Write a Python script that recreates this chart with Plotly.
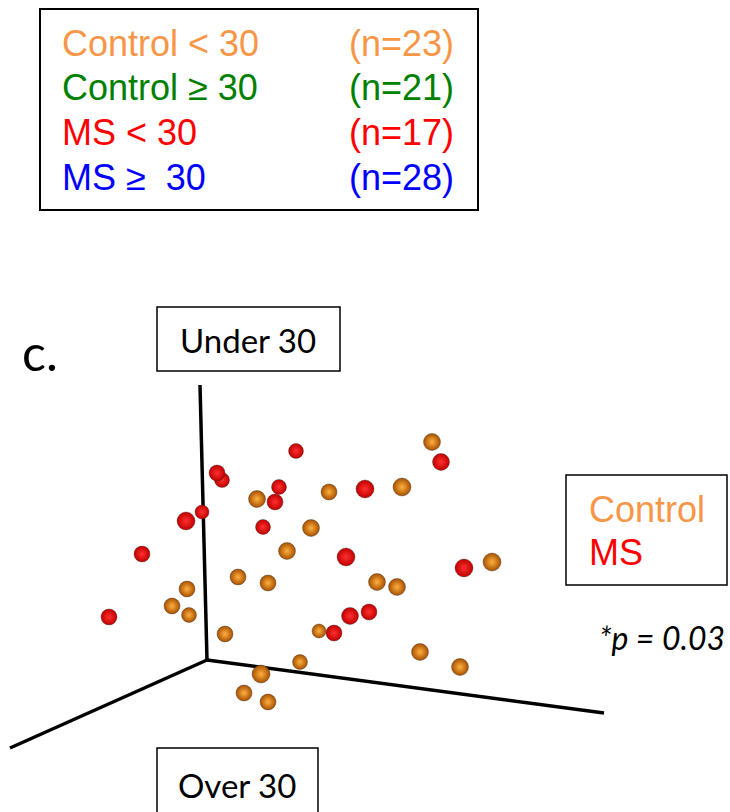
import plotly.graph_objects as go

# ---- Projected ordination coordinates (screen-plane units) and depth (sphere diameter) ----
control_x = [432, 257, 329, 402, 311, 287, 238, 268, 377, 397, 187, 172, 189, 225, 319, 300, 261, 244, 268, 420, 460, 492]
control_y = [442, 499, 492, 487, 528, 551, 577, 583, 582, 587, 589, 606, 615, 634, 631, 662, 674, 693, 702, 652, 667, 562]
control_d = [16, 16, 15, 17, 16, 16, 15, 15, 16, 16, 15, 15, 14, 15, 13, 14, 17, 15, 15, 16, 16, 17]

ms_x = [296, 222, 217, 279, 275, 202, 186, 263, 142, 441, 365, 346, 464, 369, 350, 334, 109]
ms_y = [451, 480, 473, 487, 502, 512, 521, 527, 554, 462, 489, 557, 568, 612, 616, 633, 617]
ms_d = [14, 14, 15, 14, 15, 13, 17, 14, 15, 16, 17, 17, 17, 15, 16, 15, 15]

# ---- Group legend ----
groups = ["Control < 30", "Control \u2265 30", "MS < 30", "MS \u2265  30"]
counts = [23, 21, 17, 28]
group_colors = ["#F79646", "#008000", "#FF0000", "#0000FF"]

W, H = 730, 812
ARIAL = "Liberation Sans, Arial, sans-serif"
CALIBRI = "Lato, Open Sans, sans-serif"

fig = go.Figure()

def spheres(xs, ys, ds, rim, highlight, name):
    # radial gradient: marker colour at the rim, gradient colour at the centre
    fig.add_trace(go.Scatter(
        x=xs, y=ys, mode="markers", name=name, showlegend=False, hoverinfo="skip",
        marker=dict(size=[d + 1 for d in ds], color=rim, opacity=1,
                    gradient=dict(type="radial", color=highlight),
                    line=dict(width=1, color="rgba(40,40,40,0.35)")),
    ))

spheres(control_x, control_y, control_d, "#A85000", "#FFB040", "Control")
spheres(ms_x, ms_y, ms_d, "#C00000", "#FF3030", "MS")

# ---- 3D axis frame ----
origin = (207, 660)
axis_ends = [(200, 385), (10, 748), (604, 713)]
shapes = []
for ex, ey in axis_ends:
    shapes.append(dict(type="line", xref="x", yref="y", x0=origin[0], y0=origin[1], x1=ex, y1=ey,
                       line=dict(color="black", width=3.5), layer="below"))

# ---- Boxes ----
def box(x0, y0, x1, y1, w=2):
    shapes.append(dict(type="rect", xref="x", yref="y", x0=x0, y0=y0, x1=x1, y1=y1,
                       line=dict(color="black", width=w), fillcolor="rgba(0,0,0,0)", layer="below"))

box(40, 9, 478, 210)
box(157, 307, 340, 371, 1.5)
box(157, 748, 318, 830, 1.5)
box(566, 475, 727, 585, 1.5)

ann = []
row_y = [43, 87, 132, 177]
for g, n, c, yy in zip(groups, counts, group_colors, row_y):
    ann.append(dict(x=60, y=yy, text=g, xanchor="left", yanchor="middle",
                    font=dict(family=ARIAL, size=36, color=c)))
    ann.append(dict(x=456, y=yy, text=f"(n={n})", xanchor="right", yanchor="middle",
                    font=dict(family=ARIAL, size=36, color=c)))

ann.append(dict(x=20, y=352, text="c.", xanchor="left", yanchor="middle",
                font=dict(family=CALIBRI, size=50, color="black")))
ann.append(dict(x=248, y=340, text="Under 30", xanchor="center", yanchor="middle",
                font=dict(family=CALIBRI, size=33, color="black")))
ann.append(dict(x=237, y=785, text="Over 30", xanchor="center", yanchor="middle",
                font=dict(family=CALIBRI, size=33, color="black")))
ann.append(dict(x=587, y=509, text="Control", xanchor="left", yanchor="middle",
                font=dict(family=ARIAL, size=36, color="#F79646")))
ann.append(dict(x=587, y=552, text="MS", xanchor="left", yanchor="middle",
                font=dict(family=ARIAL, size=36, color="#FF0000")))
ann.append(dict(x=727, y=637, text="*p = 0.03", xanchor="right", yanchor="middle",
                font=dict(family=CALIBRI, size=32, color="black", style="italic")))

for a in ann:
    a.update(xref="x", yref="y", showarrow=False)

fig.update_layout(
    width=W, height=H, autosize=False,
    margin=dict(l=0, r=0, t=0, b=0),
    paper_bgcolor="white", plot_bgcolor="white",
    xaxis=dict(range=[0, W], visible=False, fixedrange=True),
    yaxis=dict(range=[H, 0], visible=False, fixedrange=True),
    shapes=shapes, annotations=ann,
)

fig.write_html("out.html")
